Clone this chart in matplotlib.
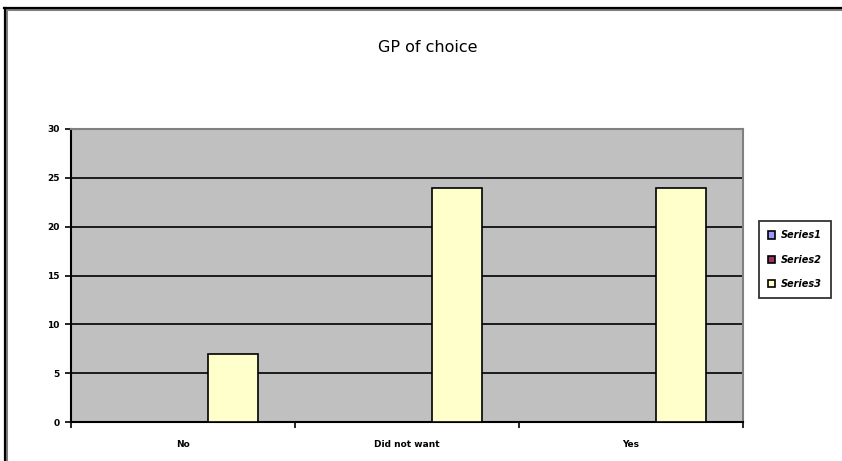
import numpy as np
import matplotlib
matplotlib.use("Agg")
import matplotlib.pyplot as plt
from matplotlib.lines import Line2D
from matplotlib.patches import Patch

categories = ["No", "Did not want", "Yes"]
series_names = ["Series1", "Series2", "Series3"]
series1 = [0, 0, 0]
series2 = [0, 0, 0]
series3 = [7, 24, 24]
series_colors = ["#9999FF", "#993366", "#FFFFCC"]
title = "GP of choice"

W, H = 842, 461
fig = plt.figure(figsize=(W / 100, H / 100), dpi=100)
fig.patch.set_facecolor("white")

ax = fig.add_axes([71 / W, (H - 422) / H, (743 - 71) / W, (422 - 129) / H])
ax.set_facecolor("#C0C0C0")

x = np.arange(len(categories))
bw = 1 / 4.5
all_series = [series1, series2, series3]
for i, (vals, col) in enumerate(zip(all_series, series_colors)):
    vals = np.asarray(vals, dtype=float)
    mask = vals > 0
    ax.bar(x[mask] + (i - 1) * bw, vals[mask], width=bw, color=col,
           edgecolor="black", linewidth=1.2, zorder=3)

ax.set_xlim(-0.5, len(categories) - 0.5)
ax.set_ylim(0, 30)
ax.set_yticks(np.arange(0, 31, 5))
ax.yaxis.grid(True, color="black", linewidth=1.2, zorder=1)
ax.set_axisbelow(True)

ax.set_xticks(np.arange(-0.5, len(categories), 1.0))
ax.set_xticklabels([])
ax.set_xticks(x, minor=True)
ax.set_xticklabels(categories, minor=True, fontsize=6.5, fontweight="bold",
                   family="DejaVu Sans")
ax.tick_params(axis="x", which="major", direction="out", length=4, width=1.2)
ax.tick_params(axis="x", which="minor", length=0, pad=13)
ax.tick_params(axis="y", direction="out", length=4, width=1.2, pad=4,
               labelsize=6.5)
for lab in ax.get_yticklabels():
    lab.set_fontweight("bold")

for s in ["left", "bottom"]:
    ax.spines[s].set_color("black")
    ax.spines[s].set_linewidth(1.5)
for s in ["top", "right"]:
    ax.spines[s].set_color("#808080")
    ax.spines[s].set_linewidth(1.5)

fig.text(428 / W, 1 - 47 / H, title, ha="center", va="center", fontsize=11.5)

handles = [Patch(facecolor=c, edgecolor="black", linewidth=1.2) for c in series_colors]
leg = fig.legend(handles, series_names, loc="center",
                 bbox_to_anchor=(795 / W, 1 - 259.5 / H),
                 prop={"size": 7, "weight": "bold", "style": "italic"},
                 handlelength=0.75, handleheight=0.75, handletextpad=0.6,
                 labelspacing=1.45, borderpad=0.95, borderaxespad=0,
                 fancybox=False, frameon=True, edgecolor="black")
leg.get_frame().set_linewidth(1.3)

# outer chart border (left and top)
fig.add_artist(Line2D([6 / W, 6 / W], [0, 1 - 9 / H], color="#808080",
                      linewidth=2.2, transform=fig.transFigure))
fig.add_artist(Line2D([5 / W, 1], [1 - 9 / H, 1 - 9 / H], color="#808080",
                      linewidth=2.2, transform=fig.transFigure))
fig.add_artist(Line2D([5 / W, 5 / W], [0, 1 - 8 / H], color="black",
                      linewidth=1.6, transform=fig.transFigure))
fig.add_artist(Line2D([4 / W, 1], [1 - 8 / H, 1 - 8 / H], color="black",
                      linewidth=1.6, transform=fig.transFigure))

fig.savefig("out.png", dpi=100)
